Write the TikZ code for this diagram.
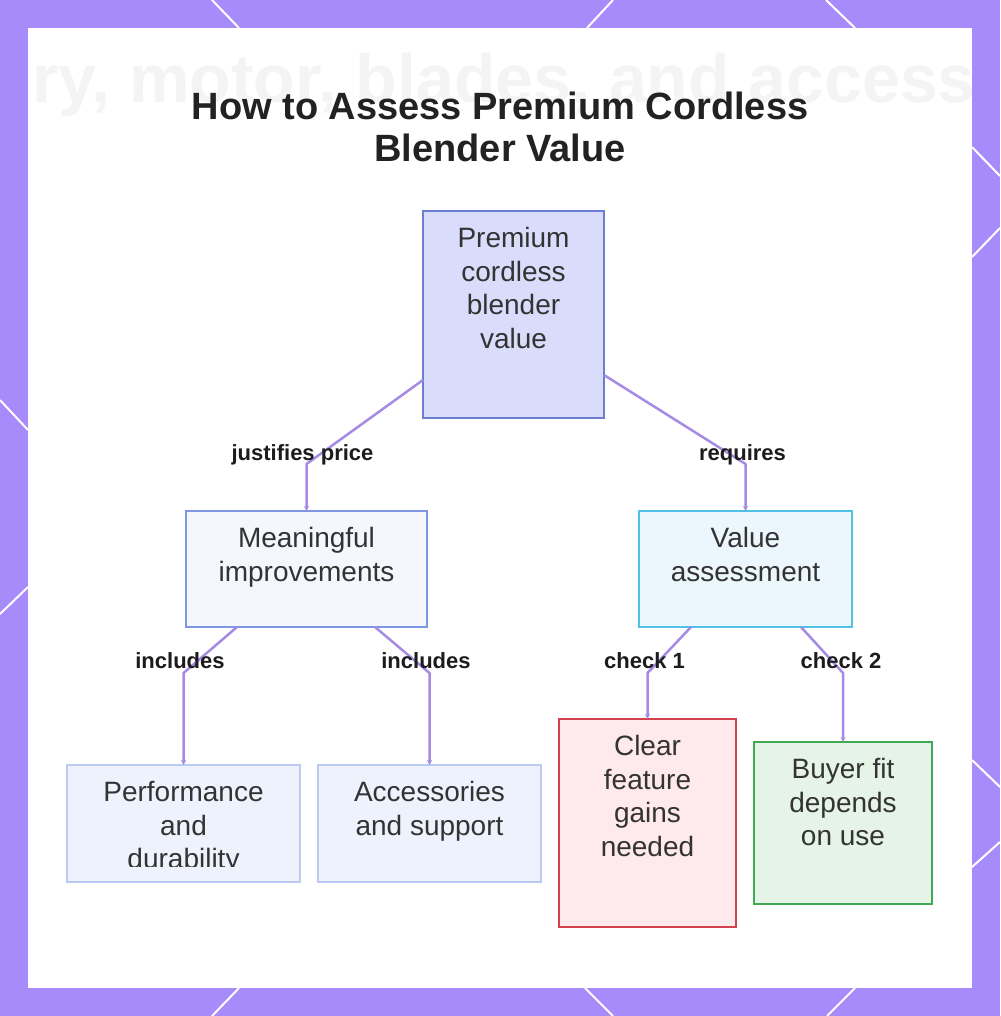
\documentclass[tikz,border=0pt]{standalone}
\usepackage{fontspec}
\setmainfont{Liberation Sans}
\usetikzlibrary{arrows.meta,calc}
\definecolor{bgpurple}{HTML}{A78BFA}
\definecolor{edgecol}{HTML}{A68BE6}
\definecolor{titlecol}{HTML}{222222}
\definecolor{textcol}{HTML}{333333}
\definecolor{labelcol}{HTML}{1C1C1C}
\definecolor{ghostcol}{HTML}{F4F4F4}
\definecolor{rootfill}{HTML}{D9DCFA}
\definecolor{rootdraw}{HTML}{6B7ED2}
\definecolor{meanfill}{HTML}{F5F7FE}
\definecolor{meandraw}{HTML}{7F97E3}
\definecolor{valfill}{HTML}{ECF7FD}
\definecolor{valdraw}{HTML}{4EC3E6}
\definecolor{leaffill}{HTML}{EEF2FD}
\definecolor{leafdraw}{HTML}{BCC9F2}
\definecolor{redfill}{HTML}{FEE9EC}
\definecolor{reddraw}{HTML}{D3414F}
\definecolor{greenfill}{HTML}{E5F4E7}
\definecolor{greendraw}{HTML}{3FA956}
\newcommand{\bxtext}[3]{\parbox[c][#2][t]{#1}{\centering\rule{0pt}{36.5pt}#3}}
\tikzset{
  box/.style={draw, line width=2.5pt, inner sep=0pt, outer sep=0pt,
    font=\fontsize{28}{33.5}\selectfont, text=textcol},
  edge/.style={draw=edgecol, line width=2.5pt, line join=round,
    -{Stealth[length=5pt,width=5pt]}},
  elabel/.style={anchor=base, font=\fontsize{22}{26}\selectfont\bfseries, text=labelcol, inner sep=0pt},
  borderline/.style={white, line width=2pt}
}
\begin{document}
\begin{tikzpicture}[x=1pt,y=-1pt]
\useasboundingbox (0,0) rectangle (1000,1016);
\fill[bgpurple] (0,0) rectangle (1000,1016);
% white pattern lines on the frame
\draw[borderline] (212,0)--(239,28);
\draw[borderline] (613,0)--(587,28);
\draw[borderline] (826,0)--(855,28);
\draw[borderline] (239,988)--(212,1016);
\draw[borderline] (585,988)--(613,1016);
\draw[borderline] (855,988)--(827,1016);
\draw[borderline] (0,400)--(28,430);
\draw[borderline] (28,587)--(0,614);
\draw[borderline] (972,147)--(1000,176);
\draw[borderline] (972,257)--(1000,228);
\draw[borderline] (972,760)--(1000,787);
\draw[borderline] (972,867)--(1000,842);
\fill[white] (28,28) rectangle (972,988);
% faint background text
\begin{scope}
\clip (28,28) rectangle (972,988);
\node[anchor=base west, inner sep=0pt, font=\fontsize{68}{80}\selectfont\bfseries, text=ghostcol] (ghost) at (32,103) {ry, motor, blades, and accessories};
\end{scope}
% title
\node[font=\fontsize{38}{42}\selectfont\bfseries, text=titlecol, align=center] (title) at (500,127) {How to Assess Premium Cordless\\Blender Value};
% boxes
\node[box, fill=rootfill, draw=rootdraw] (root) at (513.5,314.5) {\bxtext{181pt}{207pt}{Premium\\cordless\\blender\\value}};
\node[box, fill=meanfill, draw=meandraw] (mean) at (306.5,569) {\bxtext{241pt}{116pt}{Meaningful\\improvements}};
\node[box, fill=valfill, draw=valdraw] (val) at (745.5,569) {\bxtext{213pt}{116pt}{Value\\assessment}};
\node[box, fill=leaffill, draw=leafdraw] (perf) at (183.5,823.5) {\bxtext{233pt}{117pt}{Performance\\and\\durability}};
\fill[leaffill] ($(perf.south west)+(1.25,-1.25)$) rectangle ($(perf.south east)+(-1.25,-15)$);
\node[box, fill=leaffill, draw=leafdraw] (acc) at (429.5,823.5) {\bxtext{223pt}{117pt}{Accessories\\and support}};
\node[box, fill=redfill, draw=reddraw] (clear) at (647.5,823) {\bxtext{177pt}{208pt}{Clear\\feature\\gains\\needed}};
\node[box, fill=greenfill, draw=greendraw] (buyer) at (843,823) {\bxtext{178pt}{162pt}{Buyer fit\\depends\\on use}};
% connectors
\draw[edge] ([yshift=38pt]root.south west) -- ([yshift=47pt]mean.north) -- (mean.north);
\draw[edge] ([yshift=43pt]root.south east) -- ([yshift=47pt]val.north) -- (val.north);
\draw[edge] ([xshift=-69.5pt]mean.south) -- ([yshift=92pt]perf.north) -- (perf.north);
\draw[edge] ([xshift=68.5pt]mean.south) -- ([yshift=92pt]acc.north) -- (acc.north);
\draw[edge] ([xshift=-54.5pt]val.south) -- ([yshift=46pt]clear.north) -- (clear.north);
\draw[edge] ([xshift=55.5pt]val.south) -- ([yshift=69pt]buyer.north) -- (buyer.north);
% connector labels
\node[elabel] (l1) at (302.5,460) {justifies price};
\node[elabel] (l2) at (742.5,460) {requires};
\node[elabel] (l3) at (180,668) {includes};
\node[elabel] (l4) at (426,668) {includes};
\node[elabel] (l5) at (644.5,668) {check 1};
\node[elabel] (l6) at (841,668) {check 2};
\end{tikzpicture}
\end{document}
